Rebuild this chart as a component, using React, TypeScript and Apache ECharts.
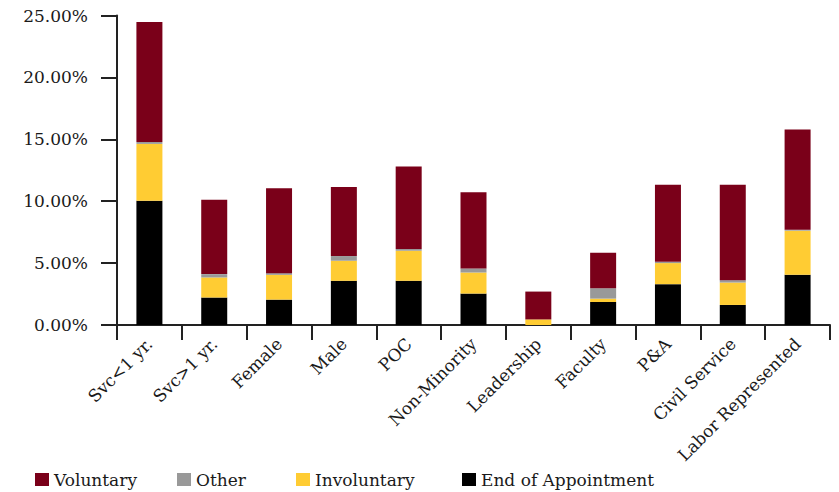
import React, { useEffect, useRef } from "react";
import * as echarts from "echarts";

const categories = [
  "Svc<1 yr.",
  "Svc>1 yr.",
  "Female",
  "Male",
  "POC",
  "Non-Minority",
  "Leadership",
  "Faculty",
  "P&A",
  "Civil Service",
  "Labor Represented",
];

const endOfAppointment = [10.03, 2.22, 2.05, 3.57, 3.57, 2.54, 0, 1.86, 3.3, 1.62, 4.05];
const involuntary = [4.6, 1.62, 2.0, 1.62, 2.43, 1.7, 0.45, 0.27, 1.7, 1.81, 3.57];
const other = [0.15, 0.27, 0.14, 0.38, 0.14, 0.33, 0, 0.84, 0.1, 0.19, 0.08];
const voluntary = [9.7, 6.0, 6.86, 5.57, 6.67, 6.16, 2.25, 2.87, 6.22, 7.7, 8.1];

const yTicks = { min: 0, max: 25, interval: 5 };

const colors = {
  voluntary: "#7a0019",
  other: "#999999",
  involuntary: "#ffcc33",
  end: "#000000",
};

const FONT = "DejaVu Serif";

export default function App() {
  const ref = useRef<HTMLDivElement>(null);

  useEffect(() => {
    if (!ref.current) return;
    const chart = echarts.init(ref.current, null, { renderer: "svg" });
    const legendBase = {
      orient: "horizontal",
      top: 471,
      itemWidth: 14,
      itemHeight: 13,
      icon: "rect",
      textStyle: { fontFamily: FONT, fontSize: 17, color: "#1a1a1a" },
      padding: 0,
    };
    chart.setOption({
      animation: false,
      grid: { left: 117, right: 9, top: 15.5, bottom: 167 },
      legend: [
        { ...legendBase, left: 35, data: ["Voluntary"] },
        { ...legendBase, left: 177, data: ["Other"] },
        { ...legendBase, left: 296, data: ["Involuntary"] },
        { ...legendBase, left: 462, data: ["End of Appointment"] },
      ],
      xAxis: {
        type: "category",
        data: categories,
        boundaryGap: true,
        axisLine: { show: true, lineStyle: { color: "#222", width: 2 } },
        axisTick: { show: true, length: 15, lineStyle: { color: "#222", width: 2 } },
        axisLabel: {
          rotate: 45,
          interval: 0,
          margin: 16,
          fontFamily: FONT,
          fontSize: 17,
          color: "#1a1a1a",
        },
      },
      yAxis: {
        type: "value",
        min: yTicks.min,
        max: yTicks.max,
        interval: yTicks.interval,
        splitLine: { show: false },
        axisLine: { show: true, lineStyle: { color: "#222", width: 2 } },
        axisTick: { show: true, length: 16, lineStyle: { color: "#222", width: 2 } },
        axisLabel: {
          margin: 29,
          fontFamily: FONT,
          fontSize: 17,
          color: "#1a1a1a",
          formatter: (v: number) => v.toFixed(2) + "%",
        },
      },
      series: [
        { name: "End of Appointment", type: "bar", stack: "t", data: endOfAppointment, barWidth: 26, itemStyle: { color: colors.end } },
        { name: "Involuntary", type: "bar", stack: "t", data: involuntary, barWidth: 26, itemStyle: { color: colors.involuntary } },
        { name: "Other", type: "bar", stack: "t", data: other, barWidth: 26, itemStyle: { color: colors.other } },
        { name: "Voluntary", type: "bar", stack: "t", data: voluntary, barWidth: 26, itemStyle: { color: colors.voluntary } },
      ],
    });
    return () => chart.dispose();
  }, []);

  return (
    <div
      ref={ref}
      style={{ position: "fixed", left: 0, top: 0, width: 839, height: 492, background: "#fff" }}
    />
  );
}
